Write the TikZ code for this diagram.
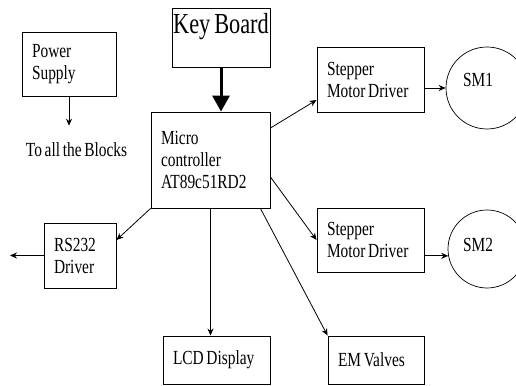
\documentclass[tikz,border=0pt]{standalone}
\usepackage{fontspec}
\setmainfont{Liberation Serif}[FakeStretch=0.77,WordSpace=0.7]
\usetikzlibrary{arrows.meta}
\tikzset{
  blk/.style={draw,line width=0.9pt,align=left,inner xsep=10pt,inner ysep=0pt,
    font=\fontsize{20}{22}\selectfont,execute at begin node={\spaceskip=0pt}},
  motor/.style={draw,circle,line width=0.7pt,inner sep=0pt},
  txt/.style={font=\fontsize{20}{22}\selectfont}
}
\begin{document}
\begin{tikzpicture}[x=1pt,y=1pt,>={Stealth[length=7pt,width=6pt]},line width=0.8pt]
\useasboundingbox (0,0) rectangle (516,385);
% blocks
\node[draw,line width=0.9pt,minimum width=98pt,minimum height=59pt,
  label={[anchor=north,inner sep=5pt,font=\fontsize{29}{30}\selectfont]north:Key Board}] (kb) at (221,347.5) {};
\node[blk,text width=74pt,minimum height=64pt] (ps) at (69,321) {Power\\Supply};
\node[txt,anchor=base,inner sep=0pt] (blocks) at (76.5,228) {To all the Blocks};
\node[blk,text width=99pt,minimum height=96pt] (mc) at (210.5,225) {Micro\\controller\\AT89c51RD2};
\node[blk,text width=87pt,minimum height=65pt] (smd1) at (370.5,305.5) {Stepper\\Motor Driver};
\node[blk,text width=87pt,minimum height=64pt] (smd2) at (370.5,145) {Stepper\\Motor Driver};
\node[blk,text width=52pt,minimum height=65pt] (rs) at (80,129.5) {RS232\\Driver};
\node[blk,text width=87pt,minimum height=48pt] (lcd) at (216.5,25) {LCD Display};
\node[blk,text width=76pt,minimum height=48pt] (em) at (376,25) {EM Valves};
\node[motor,minimum size=82pt,label={[txt,xshift=-9pt,yshift=8pt]center:SM1}] (sm1) at (487,297) {};
\node[motor,minimum size=78pt,label={[txt,xshift=-9pt,yshift=4pt]center:SM2}] (sm2) at (487,136) {};
\coordinate (out) at (10,129.5);
% connections
\draw[line width=3pt,-{Triangle[length=16pt,width=17pt]}] (kb.south) -- (kb.south |- mc.north);
\draw[->,shorten >=17pt] (ps.south) -- (ps.south |- blocks.north);
\draw[->] ([yshift=32pt]mc.east) -- ([yshift=-20.5pt]smd1.west);
\draw[->] ([yshift=-17pt]mc.east) -- (smd2.west);
\draw[->] ([xshift=-10pt]mc.south east) -- (em.north west);
\draw[->] (mc.south) -- (mc.south |- lcd.north);
\draw[->] (mc.south west) -- ([yshift=15.5pt]rs.east);
\draw[->] (rs.west) -- (out);
\draw[->] (smd1.east |- sm1.west) -- (sm1.west);
\draw[->] (smd2.east |- sm2.190) -- (sm2.190);
\end{tikzpicture}
\end{document}
